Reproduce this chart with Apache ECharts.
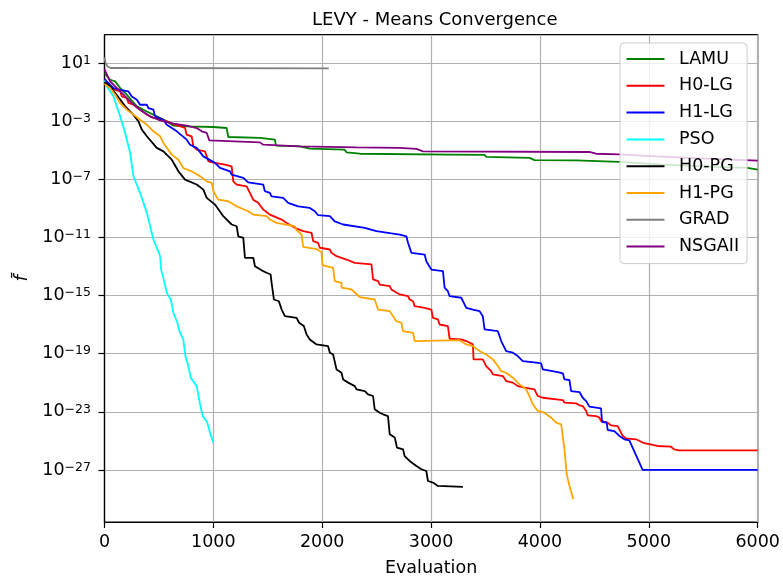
<!DOCTYPE html>
<html>
<head>
<meta charset="utf-8">
<script src="https://cdn.jsdelivr.net/npm/echarts@6/dist/echarts.min.js"></script>
<style>html,body{margin:0;padding:0;background:#fff}#c{width:783px;height:577px}</style>
</head>
<body>
<div id="c"></div>
<script>
// Series names (legend order)
var seriesNames = ['LAMU', 'H0-LG', 'H1-LG', 'PSO', 'H0-PG', 'H1-PG', 'GRAD', 'NSGAII'];
var seriesColors = ['#008000', '#ff0000', '#0000ff', '#00ffff', '#000000', '#ffa500', '#808080', '#800080'];

// Each point: [evaluation, log10 of mean f]
var lamu = [[0,0.3],[9,0.2],[52,-0.15],[98,-0.26],[144,-0.72],[205,-1.18],[297,-1.98],[389,-2.33],[480,-2.67],[572,-3.01],[633,-3.31],[755,-3.36],[1000,-3.40],[1122,-3.47],[1137,-4.09],[1428,-4.15],[1565,-4.27],[1575,-4.68],[1795,-4.73],[1886,-4.89],[2207,-4.96],[2223,-5.14],[2345,-5.24],[3170,-5.30],[3491,-5.32],[3506,-5.46],[3904,-5.53],[3950,-5.68],[4332,-5.70],[4347,-5.78],[4729,-5.80],[5122,-5.99],[5585,-6.15],[5906,-6.22],[5922,-6.34],[6000,-6.34]];
var h0lg = [[0,-0.1],[6,-0.15],[52,-0.61],[98,-0.84],[144,-0.95],[160,-1.30],[205,-1.41],[220,-1.75],[266,-1.87],[327,-2.21],[389,-2.55],[449,-2.78],[495,-2.78],[572,-3.01],[648,-3.24],[740,-3.47],[755,-3.93],[801,-4.04],[816,-4.73],[847,-4.96],[923,-5.08],[954,-5.76],[1015,-5.87],[1107,-5.99],[1168,-6.11],[1183,-7.14],[1214,-7.36],[1306,-7.48],[1366,-8.40],[1412,-8.62],[1458,-9.08],[1519,-9.43],[1627,-9.77],[1673,-10.00],[1749,-10.34],[1825,-10.57],[1902,-10.68],[1917,-11.26],[1962,-11.37],[1978,-11.71],[2070,-11.83],[2085,-12.06],[2131,-12.29],[2223,-12.52],[2299,-12.75],[2452,-12.86],[2467,-13.89],[2513,-14.01],[2528,-14.24],[2620,-14.35],[2635,-14.58],[2712,-14.92],[2788,-15.04],[2803,-15.27],[2834,-15.39],[2849,-15.73],[2941,-15.84],[3002,-15.96],[3017,-16.53],[3063,-16.64],[3078,-16.99],[3154,-17.10],[3170,-17.97],[3277,-18.02],[3323,-18.13],[3384,-18.36],[3390,-19.39],[3475,-19.39],[3506,-19.85],[3552,-20.20],[3567,-20.42],[3659,-20.54],[3690,-20.88],[3751,-20.99],[3796,-21.23],[3858,-21.34],[3950,-21.45],[3965,-21.70],[3980,-21.91],[4026,-22.03],[4210,-22.19],[4225,-22.37],[4332,-22.42],[4363,-22.55],[4393,-22.60],[4424,-22.94],[4439,-23.24],[4515,-23.29],[4546,-23.40],[4561,-23.63],[4622,-23.74],[4653,-23.93],[4714,-23.98],[4760,-24.66],[4790,-24.82],[4882,-24.89],[4958,-25.16],[5080,-25.35],[5203,-25.40],[5233,-25.58],[5279,-25.65],[6000,-25.65]];
var h1lg = [[0,-0.1],[9,-0.15],[83,-0.72],[144,-0.84],[220,-0.95],[251,-1.30],[297,-1.52],[327,-1.87],[389,-1.87],[403,-2.10],[449,-2.21],[465,-2.67],[541,-2.90],[572,-3.24],[664,-3.70],[755,-4.27],[786,-4.62],[847,-4.84],[908,-5.42],[1015,-5.87],[1061,-6.22],[1153,-6.45],[1168,-6.68],[1275,-6.90],[1320,-7.21],[1458,-7.36],[1473,-7.82],[1519,-7.94],[1535,-8.17],[1641,-8.28],[1687,-8.62],[1779,-8.86],[1886,-8.97],[1932,-9.20],[1962,-9.47],[2070,-9.54],[2115,-9.89],[2192,-10.11],[2391,-10.34],[2498,-10.57],[2604,-10.68],[2712,-10.80],[2773,-10.92],[2788,-11.37],[2819,-12.06],[2941,-12.18],[2956,-12.64],[3002,-13.21],[3109,-13.32],[3124,-14.46],[3154,-14.70],[3170,-15.04],[3277,-15.15],[3323,-15.84],[3384,-15.96],[3445,-16.07],[3475,-16.42],[3491,-17.33],[3613,-17.45],[3644,-18.13],[3690,-18.82],[3751,-18.93],[3796,-19.16],[3842,-19.51],[3965,-19.62],[4011,-19.67],[4026,-20.08],[4164,-20.27],[4210,-20.35],[4225,-20.77],[4271,-20.81],[4286,-21.57],[4363,-21.64],[4393,-22.03],[4424,-22.26],[4454,-22.64],[4561,-22.76],[4570,-23.70],[4613,-23.74],[4622,-24.25],[4683,-24.32],[4729,-24.66],[4775,-24.89],[4821,-24.96],[4943,-27.0],[6000,-27.0]];
var pso = [[0,-0.2],[22,-0.61],[83,-1.30],[144,-2.67],[190,-3.81],[236,-5.19],[266,-6.79],[327,-7.93],[389,-9.31],[449,-11.14],[511,-12.29],[520,-13.2],[541,-13.8],[572,-14.81],[609,-15.27],[633,-16.18],[669,-16.87],[688,-17.45],[724,-18.02],[743,-19.16],[770,-19.85],[792,-20.65],[847,-21.23],[878,-22.48],[902,-23.29],[944,-23.74],[969,-24.43],[1000,-25.12]];
var h0pg = [[0,-0.3],[52,-0.61],[98,-1.06],[144,-1.52],[190,-1.98],[251,-2.44],[312,-3.01],[343,-3.58],[389,-4.04],[480,-4.84],[541,-5.08],[618,-5.65],[679,-6.45],[740,-7.02],[847,-7.36],[908,-7.71],[939,-8.28],[1015,-8.74],[1091,-9.54],[1168,-10.11],[1214,-10.23],[1229,-10.92],[1275,-11.03],[1290,-12.40],[1367,-12.40],[1382,-12.98],[1458,-13.32],[1489,-13.43],[1526,-13.55],[1535,-14.12],[1556,-15.27],[1602,-15.39],[1627,-15.96],[1657,-16.42],[1764,-16.53],[1788,-16.87],[1831,-17.10],[1856,-17.67],[1886,-18.02],[1948,-18.36],[2054,-18.48],[2070,-18.93],[2100,-19.05],[2131,-20.08],[2177,-20.31],[2192,-20.77],[2238,-20.99],[2299,-21.23],[2315,-21.45],[2391,-21.57],[2421,-21.80],[2467,-21.91],[2482,-22.83],[2528,-23.06],[2559,-23.17],[2604,-23.29],[2620,-24.55],[2666,-24.77],[2687,-25.46],[2742,-25.58],[2757,-26.04],[2803,-26.38],[2865,-26.73],[2911,-26.95],[2956,-27.07],[2971,-27.76],[3017,-27.87],[3063,-28.10],[3292,-28.17]];
var h1pg = [[0,-0.45],[52,-0.72],[98,-1.18],[144,-1.75],[205,-2.21],[266,-2.55],[327,-2.90],[389,-3.24],[449,-3.70],[511,-4.04],[541,-4.50],[618,-5.30],[679,-5.65],[724,-6.22],[801,-6.45],[878,-6.79],[939,-7.14],[985,-7.25],[1000,-7.82],[1045,-8.40],[1137,-8.51],[1214,-8.86],[1320,-9.20],[1366,-9.43],[1489,-9.54],[1519,-9.77],[1581,-10.0],[1749,-10.23],[1764,-10.5],[1810,-10.8],[1825,-11.65],[1948,-11.8],[1993,-12.0],[2002,-12.9],[2100,-13.09],[2115,-14.0],[2177,-14.12],[2177,-14.46],[2269,-14.58],[2345,-15.1],[2482,-15.27],[2513,-15.96],[2620,-16.07],[2681,-16.76],[2727,-16.87],[2742,-17.45],[2834,-17.56],[2849,-18.13],[3262,-18.07],[3323,-18.36],[3384,-18.48],[3445,-18.82],[3506,-19.05],[3567,-19.39],[3613,-19.85],[3644,-20.20],[3690,-20.31],[3751,-20.65],[3812,-21.11],[3873,-21.45],[3904,-21.93],[3934,-22.48],[3980,-22.94],[4041,-23.06],[4103,-23.40],[4149,-23.74],[4195,-23.86],[4225,-25.58],[4246,-27.30],[4271,-28.10],[4307,-29.01]];
var grad = [[0,1.40],[8,1.05],[25,0.78],[55,0.66],[2060,0.63]];
var nsgaii = [[0,0.6],[9,0.40],[52,-0.26],[98,-0.61],[174,-1.18],[251,-1.75],[327,-2.21],[419,-2.67],[511,-2.94],[633,-3.17],[755,-3.31],[847,-3.47],[893,-3.70],[939,-3.81],[963,-4.32],[1428,-4.46],[1458,-4.62],[1795,-4.73],[2315,-4.80],[2712,-4.84],[2865,-4.91],[2926,-5.08],[4454,-5.12],[4515,-5.24],[4729,-5.28],[5066,-5.42],[5585,-5.60],[6000,-5.71]];

var seriesData = [lamu, h0lg, h1lg, pso, h0pg, h1pg, grad, nsgaii];

// Axis ticks
var xTicks = [0, 1000, 2000, 3000, 4000, 5000, 6000];
var yTickExponents = [1, -3, -7, -11, -15, -19, -23, -27];
var yMinExp = -30.58, yMaxExp = 2.95;

var FONT = 'DejaVu Sans';
var yTickValues = yTickExponents.map(function (e) { return Math.pow(10, e); });

var chart = echarts.init(document.getElementById('c'), null, {renderer: 'canvas'});
chart.setOption({
  animation: false,
  backgroundColor: '#fff',
  textStyle: {fontFamily: FONT},
  title: {
    text: 'LEVY - Means Convergence',
    left: 307, top: 6,
    textStyle: {fontFamily: FONT, fontSize: 18, fontWeight: 'normal', color: '#000'}
  },
  grid: {
    left: 104.5, right: 25.3, top: 34.7, bottom: 55,
    show: true, borderColor: '#000', borderWidth: 1.2, backgroundColor: 'transparent',
    containLabel: false,
    outerBoundsMode: 'none'
  },
  legend: {
    data: seriesNames,
    orient: 'vertical',
    left: 620, top: 43,
    icon: 'rect',
    itemWidth: 38, itemHeight: 2,
    itemGap: 6.8,
    padding: [6, 8, 7, 6.5],
    backgroundColor: 'rgba(255,255,255,0.8)',
    borderColor: '#cccccc', borderWidth: 1, borderRadius: 4,
    textStyle: {fontFamily: FONT, fontSize: 17.5, color: '#000', lineHeight: 20, padding: [0, 0, 0, 9.5]},
    z: 10
  },
  xAxis: {
    type: 'value',
    min: xTicks[0], max: xTicks[xTicks.length - 1], interval: 1000,
    name: 'Evaluation', nameLocation: 'middle', nameGap: 37,
    nameTextStyle: {fontFamily: FONT, fontSize: 17.5, color: '#000'},
    axisLine: {show: true, lineStyle: {color: '#000', width: 1.2}},
    axisTick: {show: true, length: 6, inside: false, lineStyle: {color: '#000', width: 1.2}},
    axisLabel: {fontFamily: FONT, fontSize: 17.5, color: '#000', margin: 11,
      formatter: function (v) { return String(v); }},
    splitLine: {show: true, lineStyle: {color: '#b0b0b0', width: 1.2}}
  },
  yAxis: {
    type: 'log', logBase: 10,
    min: Math.pow(10, yMinExp), max: Math.pow(10, yMaxExp),
    name: 'f\u0304', nameLocation: 'middle', nameGap: 69,
    nameTextStyle: {fontFamily: FONT, fontSize: 18, color: '#000', fontStyle: 'italic'},
    axisLine: {show: true, lineStyle: {color: '#000', width: 1.2}},
    axisTick: {show: true, length: 6, inside: false, customValues: yTickValues, lineStyle: {color: '#000', width: 1.2}},
    axisLabel: {
      customValues: yTickValues,
      margin: 13.5,
      formatter: function (v) {
        var e = Math.round(Math.log10(v));
        var s = e < 0 ? '\u2212' + (-e) : String(e);
        return '{b|10}{s|' + s + '}';
      },
      rich: {
        b: {fontFamily: FONT, fontSize: 17.5, color: '#000', lineHeight: 18, padding: [5, 0, 0, 0], verticalAlign: 'bottom'},
        s: {fontFamily: FONT, fontSize: 12.5, color: '#000', lineHeight: 13, verticalAlign: 'top'}
      }
    },
    splitLine: {show: true, lineStyle: {color: '#b0b0b0', width: 1.2}}
  },
  series: seriesNames.map(function (name, i) {
    return {
      name: name,
      type: 'line',
      symbol: 'none',
      showSymbol: false,
      color: seriesColors[i],
      lineStyle: {color: seriesColors[i], width: 1.8},
      data: seriesData[i].map(function (p) { return [p[0], Math.pow(10, p[1])]; }),
      z: 2 + i * 0.01
    };
  })
});
</script>
</body>
</html>
